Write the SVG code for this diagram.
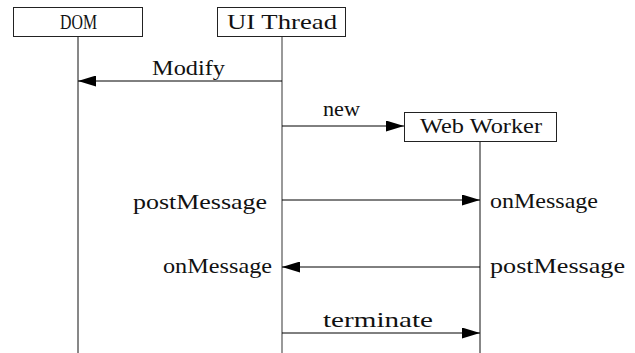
<svg xmlns="http://www.w3.org/2000/svg" width="635" height="353" viewBox="0 0 635 353">
<style>
.box{fill:#fff;stroke:#222;stroke-width:1}
.life{stroke:#111;stroke-width:1;fill:none}
.life.ui{stroke:#777;stroke-width:1.5}
.msg{stroke:#000;stroke-width:1;fill:none;marker-end:url(#ah)}
text{font-family:"Liberation Serif","Noto Sans CJK SC",serif;font-size:22px;fill:#111}
</style>
<defs>
<marker id="ah" viewBox="0 0 18 11" refX="18" refY="5.5" markerWidth="18" markerHeight="11" markerUnits="userSpaceOnUse" orient="auto">
<path d="M0,0 L18,5.5 L0,11 Z" fill="#000"/>
</marker>
</defs>
<rect width="635" height="353" fill="#fff"/>
<g id="connectors">
<line class="life" x1="78" y1="37" x2="78" y2="353"/>
<line class="life ui" x1="282" y1="37" x2="282" y2="353"/>
<line class="life" x1="480" y1="141" x2="480" y2="353"/>
<line class="msg" x1="282" y1="81" x2="78" y2="81"/>
<line class="msg" x1="282" y1="126" x2="404" y2="126"/>
<line class="msg" x1="282" y1="200" x2="480" y2="200"/>
<line class="msg" x1="480" y1="267" x2="282" y2="267"/>
<line class="msg" x1="282" y1="333" x2="480" y2="333"/>
<text x="152" y="75" textLength="73" lengthAdjust="spacingAndGlyphs">Modify</text>
<text x="323" y="116" textLength="37" lengthAdjust="spacingAndGlyphs">new</text>
<text x="133" y="209" textLength="134" lengthAdjust="spacingAndGlyphs">postMessage</text>
<text x="490" y="208" textLength="108" lengthAdjust="spacingAndGlyphs">onMessage</text>
<text x="163" y="273" textLength="109" lengthAdjust="spacingAndGlyphs">onMessage</text>
<text x="490" y="273" textLength="135" lengthAdjust="spacingAndGlyphs">postMessage</text>
<text x="323" y="327" textLength="110" lengthAdjust="spacingAndGlyphs">terminate</text>
</g>
<g id="dom">
<rect class="box" x="13.5" y="7.5" width="129" height="29"/>
<text x="60" y="29" textLength="37" lengthAdjust="spacingAndGlyphs">DOM</text>
</g>
<g id="ui-thread">
<rect class="box" x="217.5" y="7.5" width="128" height="29"/>
<text x="227" y="29" textLength="110" lengthAdjust="spacingAndGlyphs">UI Thread</text>
</g>
<g id="web-worker">
<rect class="box" x="404.5" y="112.5" width="152" height="29"/>
<text x="420" y="133" textLength="122" lengthAdjust="spacingAndGlyphs">Web Worker</text>
</g>
</svg>
